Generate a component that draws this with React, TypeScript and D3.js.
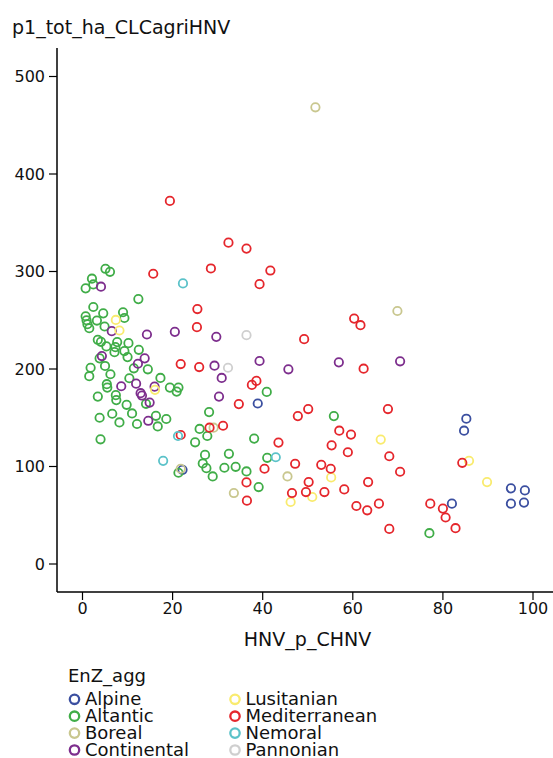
import React from "react";
import * as d3 from "d3";

// ---- data (HNV_p_CHNV, p1_tot_ha_CLCagriHNV) ----
const alpine: [number, number][] = [
  [38.9, 164.6], [85.2, 149.0], [84.7, 136.7], [82.0, 61.9], [95.1, 77.6],
  [98.2, 75.5], [95.1, 61.9], [98.0, 63.0], [22.2, 96.6],
];
const altantic: [number, number][] = [
  [5.1, 302.8], [6.1, 299.7], [2.1, 292.6], [0.7, 282.7], [2.4, 286.7],
  [12.4, 271.7], [2.4, 263.6], [4.6, 257.1], [9.0, 258.2], [9.3, 252.3],
  [0.7, 254.1], [0.9, 250.0], [1.1, 245.9], [1.5, 241.8], [3.2, 249.7],
  [4.9, 243.6], [3.4, 229.9], [4.1, 227.9], [5.3, 223.2], [7.7, 227.6],
  [7.3, 222.4], [10.2, 226.5], [12.5, 219.7], [7.1, 217.3], [9.3, 218.4],
  [10.0, 212.2], [3.8, 210.9], [14.5, 199.7], [11.4, 200.7], [5.0, 203.1],
  [1.8, 201.3], [1.5, 192.6], [6.2, 194.6], [10.4, 190.5], [5.4, 184.4],
  [5.5, 180.9], [7.4, 173.2], [7.5, 168.1], [3.4, 171.7], [14.1, 164.3],
  [9.8, 163.3], [17.3, 190.8], [19.4, 180.9], [21.3, 180.9], [20.9, 176.8],
  [6.6, 154.1], [11.0, 154.4], [8.2, 145.2], [12.1, 143.6], [16.3, 152.0],
  [16.7, 141.1], [18.6, 148.7], [3.8, 150.0], [4.0, 127.9], [25.0, 124.8],
  [26.0, 138.5], [28.1, 155.8], [27.7, 131.3], [27.2, 111.9], [26.7, 103.1],
  [27.5, 98.3], [28.9, 89.8], [31.5, 98.7], [34.0, 99.7], [32.5, 113.0],
  [36.4, 94.9], [39.1, 78.9], [38.1, 128.6], [40.9, 176.5], [55.8, 151.7],
  [41.0, 108.9], [21.3, 93.6], [77.0, 31.6],
];
const boreal: [number, number][] = [
  [51.7, 468.4], [69.9, 259.5], [29.1, 139.8], [45.5, 89.8], [33.6, 72.8],
  [21.8, 97.7],
];
const continental: [number, number][] = [
  [4.1, 284.4], [6.5, 238.8], [14.3, 235.4], [20.5, 238.1], [29.7, 233.0],
  [29.3, 203.4], [30.9, 190.8], [30.3, 171.7], [39.3, 208.2], [45.7, 199.7],
  [56.9, 206.8], [70.5, 207.9], [4.3, 213.3], [12.3, 205.4], [13.8, 210.9],
  [11.9, 185.0], [8.6, 182.3], [12.9, 175.2], [13.2, 172.8], [14.9, 165.6],
  [16.0, 181.9], [14.6, 146.9],
];
const lusitanian: [number, number][] = [
  [7.4, 250.3], [8.2, 239.5], [16.1, 178.6], [66.2, 127.6], [85.8, 105.8],
  [89.8, 84.0], [55.2, 88.8], [46.2, 63.6], [51.0, 68.7],
];
const mediterranean: [number, number][] = [
  [19.4, 372.4], [32.4, 329.6], [36.4, 323.5], [28.5, 303.1], [41.7, 301.0],
  [39.3, 287.0], [25.5, 261.5], [25.4, 242.9], [49.2, 230.6], [60.3, 251.7],
  [61.7, 244.9], [15.7, 297.7], [21.8, 205.1], [25.9, 202.0], [62.4, 200.3],
  [38.6, 187.8], [37.6, 183.7], [34.7, 164.0], [47.8, 151.7], [50.1, 158.9],
  [67.8, 158.9], [43.5, 124.5], [57.0, 136.7], [59.6, 132.7], [55.3, 121.7],
  [58.9, 114.6], [68.1, 110.5], [70.5, 94.6], [40.4, 97.7], [47.2, 102.8],
  [53.0, 101.7], [55.1, 97.7], [50.2, 84.0], [36.4, 83.7], [63.4, 84.0],
  [46.5, 72.8], [49.6, 73.8], [53.7, 73.8], [58.1, 76.5], [36.5, 65.0],
  [60.8, 59.5], [63.2, 55.1], [65.8, 61.9], [68.1, 36.0], [77.2, 61.9],
  [80.0, 56.8], [80.6, 47.7], [82.8, 36.7], [84.3, 103.8], [21.8, 132.3],
  [28.2, 139.8], [31.2, 141.8],
];
const nemoral: [number, number][] = [
  [22.3, 287.8], [21.2, 131.3], [17.9, 105.8], [42.9, 109.5],
];
const pannonian: [number, number][] = [
  [36.4, 234.7], [32.3, 201.3],
];

const seriesNames = [
  "Alpine", "Altantic", "Boreal", "Continental",
  "Lusitanian", "Mediterranean", "Nemoral", "Pannonian",
];
const seriesColors = [
  "#3b4fa0", "#40ad48", "#c9c78f", "#7d2e8d",
  "#f9eb6e", "#e5262c", "#5bc2c9", "#cfcfcf",
];
const seriesData = [
  alpine, altantic, boreal, continental,
  lusitanian, mediterranean, nemoral, pannonian,
];
const xTicks = [0, 20, 40, 60, 80, 100];
const yTicks = [0, 100, 200, 300, 400, 500];

const W = 553;
const H = 758;
const FONT = "'DejaVu Sans', Verdana, sans-serif";

export default function App() {
  // pixel frame of the plot
  const left = 57, right = 553, top = 48, bottom = 592;
  const x = d3.scaleLinear().domain([0, 100]).range([82.5, 533]);
  const y = d3.scaleLinear().domain([0, 500]).range([564, 76.5]);

  return (
    <svg
      width={W}
      height={H}
      style={{ position: "absolute", left: 0, top: 0, background: "#fff" }}
      fontFamily={FONT}
    >
      {/* y axis title */}
      <text x={12} y={34} fontSize={19} fill="#111">p1_tot_ha_CLCagriHNV</text>

      {/* y axis */}
      <line x1={left} x2={left} y1={top} y2={bottom} stroke="#000" strokeWidth={1.5} />
      {yTicks.map((t) => (
        <g key={"y" + t}>
          <line x1={left - 8} x2={left} y1={y(t)} y2={y(t)} stroke="#000" strokeWidth={1.2} />
          <text x={left - 12} y={y(t)} dy="0.36em" textAnchor="end" fontSize={16} fill="#111">
            {t}
          </text>
        </g>
      ))}

      {/* x axis */}
      <line x1={left} x2={right} y1={bottom} y2={bottom} stroke="#000" strokeWidth={1.5} />
      {xTicks.map((t) => (
        <g key={"x" + t}>
          <line x1={x(t)} x2={x(t)} y1={bottom} y2={bottom + 8} stroke="#000" strokeWidth={1.2} />
          <text x={x(t)} y={bottom + 22} textAnchor="middle" fontSize={16} fill="#111">
            {t}
          </text>
        </g>
      ))}
      <text x={307.5} y={645.5} textAnchor="middle" fontSize={19} fill="#111">HNV_p_CHNV</text>

      {/* points */}
      {seriesData.map((pts, si) => (
        <g key={"s" + si}>
          {pts.map((p, i) => (
            <circle
              key={i}
              cx={x(p[0])}
              cy={y(p[1])}
              r={4.2}
              fill="none"
              stroke={seriesColors[si]}
              strokeWidth={1.8}
            />
          ))}
        </g>
      ))}

      {/* legend */}
      <text x={68} y={682} fontSize={18} fill="#111">EnZ_agg</text>
      {seriesNames.map((name, i) => {
        const col = Math.floor(i / 4);
        const row = i % 4;
        const cx = col === 0 ? 74.5 : 235;
        const cy = 699.3 + row * 16.9;
        return (
          <g key={name}>
            <circle cx={cx} cy={cy} r={4.7} fill="none" stroke={seriesColors[i]} strokeWidth={2.3} />
            <text x={cx + 10.5} y={cy + 6} fontSize={18} fill="#111">{name}</text>
          </g>
        );
      })}
    </svg>
  );
}
